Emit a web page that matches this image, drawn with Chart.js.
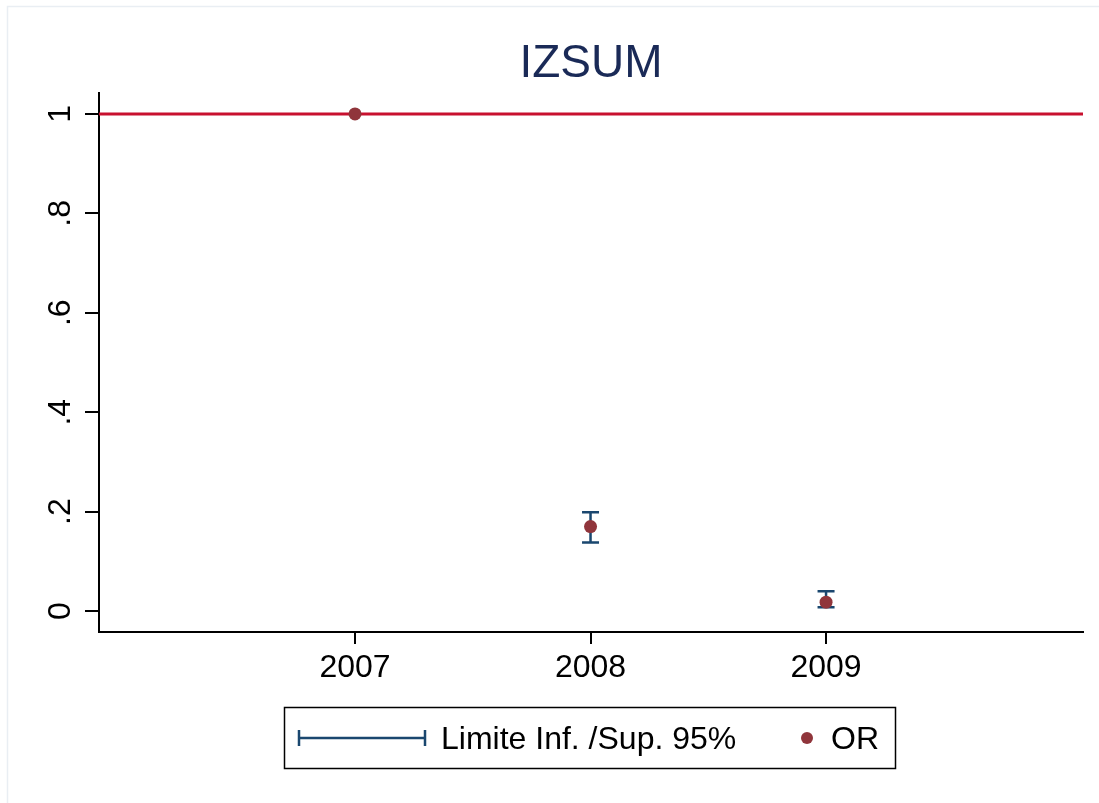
<!DOCTYPE html>
<html><head><meta charset="utf-8">
<script src="https://cdn.jsdelivr.net/npm/chart.js@4/dist/chart.umd.min.js"></script>
<style>html,body{margin:0;padding:0;background:#fff;}#wrap{width:1099px;height:803px;}</style>
</head><body><div id="wrap"><canvas id="c" width="1099" height="803"></canvas></div>
<script>
const titleText = 'IZSUM';
const years = [2007, 2008, 2009];
const xTickLabels = ['2007', '2008', '2009'];
const orValues = [1, 0.17, 0.018];
const ciLow = [null, 0.138, 0.008];
const ciHigh = [null, 0.199, 0.040];
const refValue = 1;
const yTickValues = [0, 0.2, 0.4, 0.6, 0.8, 1];
const yTickLabels = ['0', '.2', '.4', '.6', '.8', '1'];
const legendLabels = ['Limite Inf. /Sup. 95%', 'OR'];

const FONT = '"Liberation Sans", Arial, Helvetica, sans-serif';
const NAVY = '#1a476f';
const DOT = '#90353b';
const REF = '#c8102e';

const decor = {
  id: 'decor',
  beforeDraw(chart) {
    const ctx = chart.ctx;
    ctx.save();
    ctx.fillStyle = '#fff';
    ctx.fillRect(0, 0, chart.width, chart.height);
    ctx.strokeStyle = '#e9eef3';
    ctx.lineWidth = 1.5;
    ctx.strokeRect(7.5, 6.5, 1300, 1000);
    ctx.restore();
  },
  beforeDatasetsDraw(chart) {
    const ctx = chart.ctx, xs = chart.scales.x, ys = chart.scales.y, a = chart.chartArea;
    ctx.save();
    const yr = ys.getPixelForValue(refValue);
    ctx.strokeStyle = REF; ctx.lineWidth = 3;
    ctx.beginPath(); ctx.moveTo(a.left, yr); ctx.lineTo(a.right, yr); ctx.stroke();
    ctx.strokeStyle = NAVY; ctx.lineWidth = 2.5; ctx.lineCap = 'butt';
    years.forEach((yv, i) => {
      if (ciLow[i] == null) return;
      const x = xs.getPixelForValue(yv);
      const y1 = ys.getPixelForValue(ciLow[i]);
      const y2 = ys.getPixelForValue(ciHigh[i]);
      ctx.beginPath();
      ctx.moveTo(x, y1); ctx.lineTo(x, y2);
      ctx.moveTo(x - 8.5, y1); ctx.lineTo(x + 8.5, y1);
      ctx.moveTo(x - 8.5, y2); ctx.lineTo(x + 8.5, y2);
      ctx.stroke();
    });
    ctx.restore();
  },
  afterDraw(chart) {
    const ctx = chart.ctx, ys = chart.scales.y, a = chart.chartArea;
    ctx.save();
    ctx.fillStyle = '#1a2a57';
    ctx.font = '46px ' + FONT;
    ctx.textAlign = 'center'; ctx.textBaseline = 'alphabetic';
    ctx.fillText(titleText, (a.left + a.right) / 2, 77);
    ctx.fillStyle = '#000';
    ctx.font = '32px ' + FONT;
    yTickValues.forEach((v, i) => {
      const y = ys.getPixelForValue(v);
      ctx.save();
      ctx.translate(70, y);
      ctx.rotate(-Math.PI / 2);
      ctx.textAlign = 'center'; ctx.textBaseline = 'alphabetic';
      ctx.fillText(yTickLabels[i], 0, 0);
      ctx.restore();
    });
    const lx = 284, ly = 707, lw = 611, lh = 61;
    ctx.strokeStyle = '#000'; ctx.lineWidth = 1.5;
    ctx.strokeRect(lx + 0.5, ly + 0.5, lw, lh);
    const cy = 738;
    ctx.strokeStyle = NAVY; ctx.lineWidth = 2.5;
    ctx.beginPath();
    ctx.moveTo(299, cy); ctx.lineTo(425, cy);
    ctx.moveTo(299, cy - 8); ctx.lineTo(299, cy + 8);
    ctx.moveTo(425, cy - 8); ctx.lineTo(425, cy + 8);
    ctx.stroke();
    ctx.fillStyle = '#000';
    ctx.font = '32px ' + FONT;
    ctx.textAlign = 'left'; ctx.textBaseline = 'alphabetic';
    ctx.fillText(legendLabels[0], 441, 749);
    ctx.fillStyle = DOT;
    ctx.beginPath(); ctx.arc(807, 738, 6, 0, Math.PI * 2); ctx.fill();
    ctx.fillStyle = '#000';
    ctx.fillText(legendLabels[1], 831, 749);
    ctx.restore();
  }
};

new Chart(document.getElementById('c'), {
  type: 'scatter',
  data: {
    datasets: [{
      label: legendLabels[1],
      data: years.map((x, i) => ({ x: x, y: orValues[i] })),
      backgroundColor: DOT,
      borderColor: DOT,
      borderWidth: 0,
      pointRadius: 6.5,
      showLine: false
    }]
  },
  options: {
    responsive: false,
    animation: false,
    devicePixelRatio: 1,
    layout: { padding: { left: 0, right: 16, top: 93, bottom: 0 } },
    plugins: { legend: { display: false }, title: { display: false }, tooltip: { enabled: false } },
    scales: {
      x: {
        type: 'linear',
        min: 2005.913, max: 2010.091,
        afterBuildTicks: s => { s.ticks = years.map(v => ({ value: v })); },
        afterFit: s => { s.height = 171; },
        ticks: {
          autoSkip: false, maxRotation: 0, minRotation: 0,
          color: '#000', font: { family: FONT, size: 32 }, padding: 5,
          callback: v => xTickLabels[years.indexOf(v)]
        },
        grid: { display: true, drawOnChartArea: false, drawTicks: true, tickLength: 12, color: '#000', lineWidth: 2 },
        border: { display: true, color: '#000', width: 2 }
      },
      y: {
        type: 'linear',
        min: -0.042, max: 1.042,
        afterBuildTicks: s => { s.ticks = yTickValues.map(v => ({ value: v })); },
        afterFit: s => { s.width = 99; },
        ticks: { display: false },
        grid: { display: true, drawOnChartArea: false, drawTicks: true, tickLength: 14, color: '#000', lineWidth: 2 },
        border: { display: true, color: '#000', width: 2 }
      }
    }
  },
  plugins: [decor]
});
</script>
</body></html>
